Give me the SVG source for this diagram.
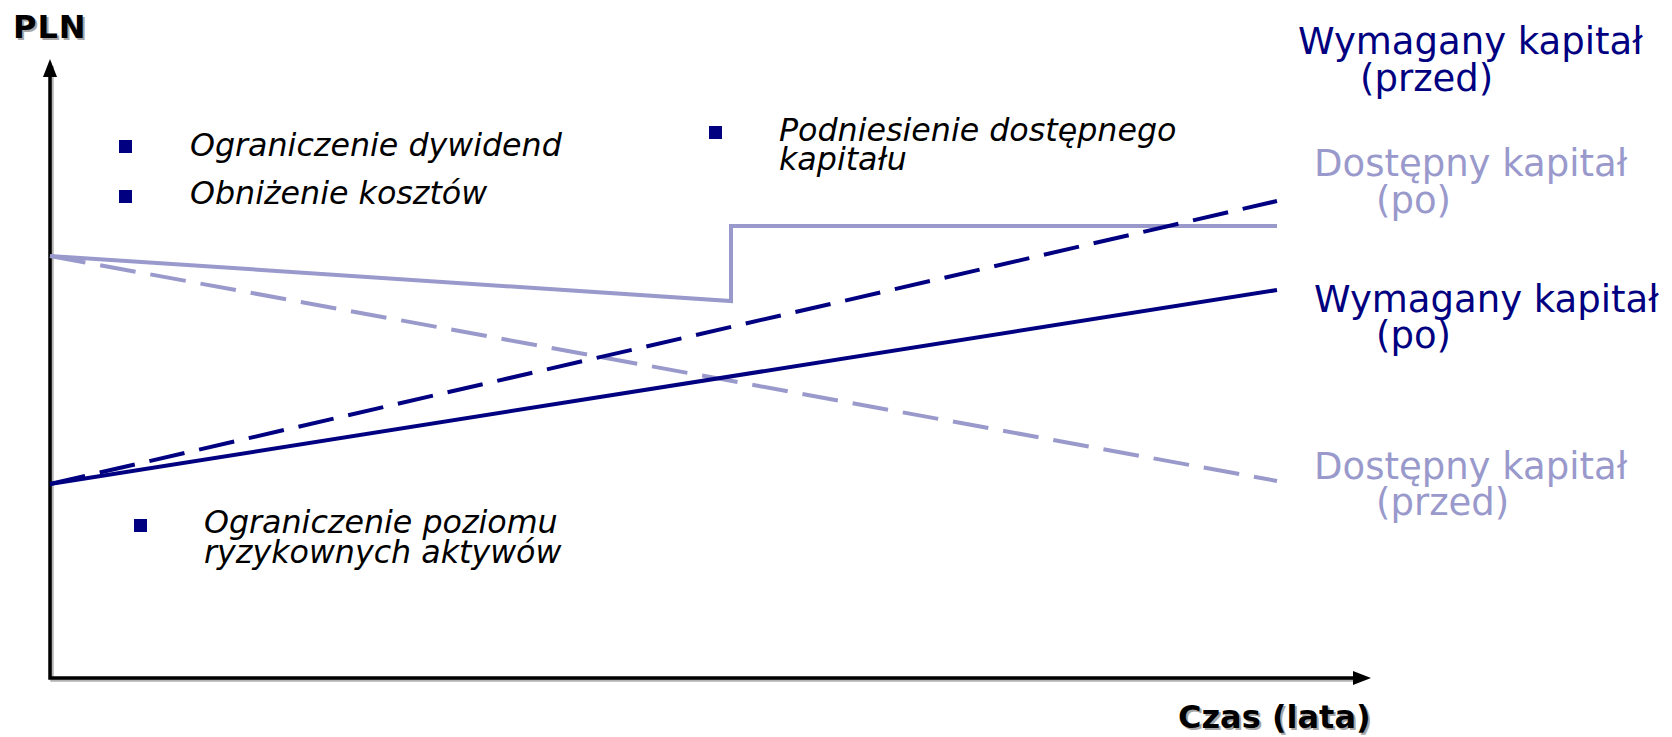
<svg xmlns="http://www.w3.org/2000/svg" width="1672" height="737" viewBox="0 0 1672 737">
  <style>
    .axis { stroke: #000; stroke-width: 3.5; fill: none; }
    .axis-shadow { stroke: #b3b3b3; stroke-width: 3.5; fill: none; }
    .title { font-family: "DejaVu Sans", Verdana, sans-serif; font-weight: bold; font-size: 32px; fill: #000; }
    .title-shadow { font-family: "DejaVu Sans", Verdana, sans-serif; font-weight: bold; font-size: 32px; fill: #a6a6a6; }
    .note { font-family: "DejaVu Sans", Verdana, sans-serif; font-style: italic; font-size: 31.7px; fill: #000; }
    .legend { font-family: "DejaVu Sans", Verdana, sans-serif; font-size: 37px; }
    .navy { fill: #000080; }
    .lilac { fill: #9999cc; }
    .req { stroke: #000080; stroke-width: 4; fill: none; }
    .avail { stroke: #9999cc; stroke-width: 4; fill: none; }
    .dash { stroke-dasharray: 36 15; }
  </style>

  <rect width="1672" height="737" fill="#fff"/>

  <!-- axes with soft drop shadow -->
  <g id="axes">
    <path class="axis-shadow" d="M52 66 V680 H1356"/>
    <path class="axis" d="M50 74 V678 H1356"/>
    <polygon points="50,59 43,77 57,77" fill="#000"/>
    <polygon points="1371,678 1353,671 1353,685" fill="#000"/>
    <text class="title-shadow" x="15" y="40" font-size="35" letter-spacing="1">PLN</text>
    <text class="title" x="13" y="38" font-size="35" letter-spacing="1">PLN</text>
    <text class="title-shadow" x="1180" y="730">Czas (lata)</text>
    <text class="title" x="1178" y="728">Czas (lata)</text>
  </g>

  <!-- capital curves -->
  <g id="connectors">
    <path id="avail-after" class="avail" d="M50 256 L731 301 V226 H1277"/>
    <path id="avail-before" class="avail dash" d="M50 256 L1277 481"/>
    <path id="req-after" class="req" d="M50 484 L1277 290"/>
    <path id="req-before" class="req dash" d="M50 484 L1277 201"/>
  </g>

  <!-- management actions -->
  <g id="action-dividends">
    <rect class="navy" x="119" y="140" width="13" height="13"/>
    <text class="note" x="190" y="156">Ograniczenie dywidend</text>
  </g>
  <g id="action-costs">
    <rect class="navy" x="119" y="190" width="13" height="13"/>
    <text class="note" x="190" y="204">Obniżenie kosztów</text>
  </g>
  <g id="action-raise">
    <rect class="navy" x="709" y="126" width="13" height="13"/>
    <text class="note" x="779" y="141">Podniesienie dostępnego</text>
    <text class="note" x="779" y="170">kapitału</text>
  </g>
  <g id="action-risk">
    <rect class="navy" x="134" y="519" width="13" height="13"/>
    <text class="note" x="204" y="533">Ograniczenie poziomu</text>
    <text class="note" x="204" y="563">ryzykownych aktywów</text>
  </g>

  <!-- series labels -->
  <g id="label-req-before" class="legend navy">
    <text x="1298" y="54">Wymagany kapitał</text>
    <text x="1360" y="91">(przed)</text>
  </g>
  <g id="label-avail-after" class="legend lilac">
    <text x="1314" y="176">Dostępny kapitał</text>
    <text x="1376" y="213">(po)</text>
  </g>
  <g id="label-req-after" class="legend navy">
    <text x="1314" y="312">Wymagany kapitał</text>
    <text x="1376" y="348">(po)</text>
  </g>
  <g id="label-avail-before" class="legend lilac">
    <text x="1314" y="479">Dostępny kapitał</text>
    <text x="1376" y="515">(przed)</text>
  </g>
</svg>
